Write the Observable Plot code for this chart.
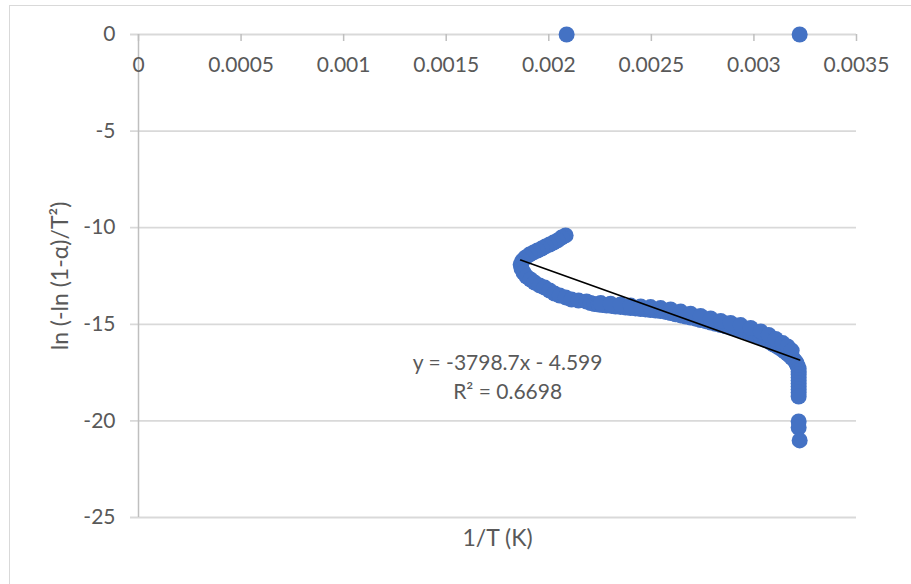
<!DOCTYPE html>
<html>
<head>
<meta charset="utf-8">
<script src="https://cdn.jsdelivr.net/npm/d3@7"></script>
<script src="https://cdn.jsdelivr.net/npm/@observablehq/plot@0.6"></script>
<style>
  html, body { margin: 0; padding: 0; background: #fff; }
  #chart { position: relative; width: 911px; height: 584px; overflow: hidden; }
  #chart .edge { position: absolute; left: 9px; top: 5px; width: 1200px; height: 1200px;
    border-left: 1.5px solid #d9d9d9; border-top: 1.5px solid #d9d9d9; box-sizing: border-box; }
  #chart svg { position: absolute; left: 0; top: 0; }
</style>
</head>
<body>
<div id="chart"><div class="edge"></div></div>
<script>
// 1/T (K) readings
const invT = [
  // two points on the zero line
  0.002087, 0.003223,
  // high-temperature arm and turning point
  0.002082, 0.002062, 0.002043, 0.002023, 0.002004, 0.001984, 0.001965, 0.001945,
  0.001926, 0.001906, 0.001887, 0.001872, 0.001863, 0.001867, 0.001877, 0.001892,
  0.001911, 0.001931, 0.001955, 0.001980, 0.002004, 0.002028, 0.002053, 0.002082,
  0.002111, 0.002145, 0.002184,
  // main descending branch
  0.002204, 0.002223, 0.002243, 0.002262, 0.002282, 0.002306, 0.002326, 0.002350,
  0.002375, 0.002399, 0.002423, 0.002448, 0.002472, 0.002496, 0.002521, 0.002545,
  0.002570, 0.002594, 0.002618, 0.002643, 0.002667, 0.002691, 0.002716, 0.002740,
  0.002765, 0.002789, 0.002813, 0.002838, 0.002862, 0.002886, 0.002911, 0.002935,
  0.002960, 0.002984, 0.003008, 0.003033, 0.003057, 0.003077, 0.003096, 0.003116,
  0.003135, 0.003150, 0.003164, 0.003174, 0.003184, 0.003194, 0.003203, 0.003208,
  0.003213, 0.003218,
  // low-temperature tail
  0.003218, 0.003218, 0.003218, 0.003218, 0.003218, 0.003218, 0.003218, 0.003218,
  0.003218, 0.003218, 0.003218, 0.003223,
  // second run along the descending branch
  0.002253, 0.002301, 0.002350, 0.002399, 0.002448, 0.002496, 0.002545, 0.002594,
  0.002643, 0.002691, 0.002740, 0.002789, 0.002838, 0.002886, 0.002935, 0.002984,
  0.003033, 0.003072, 0.003106, 0.003140, 0.003164, 0.003184
];

// ln(-ln(1-α)/T²) readings, same order
const lnTerm = [
  0, 0,
  -10.40, -10.51, -10.66, -10.77, -10.87, -10.97, -11.08, -11.18,
  -11.28, -11.39, -11.54, -11.70, -11.90, -12.11, -12.32, -12.53,
  -12.68, -12.84, -12.99, -13.10, -13.25, -13.41, -13.51, -13.61,
  -13.72, -13.77, -13.82,
  -13.90, -13.95, -13.98, -14.00, -14.03, -14.05, -14.08, -14.10,
  -14.13, -14.16, -14.18, -14.21, -14.23, -14.26, -14.29, -14.31,
  -14.36, -14.42, -14.48, -14.54, -14.60, -14.65, -14.71, -14.78,
  -14.84, -14.91, -14.97, -15.04, -15.10, -15.17, -15.23, -15.30,
  -15.38, -15.48, -15.58, -15.68, -15.81, -15.92, -16.05, -16.17,
  -16.30, -16.41, -16.53, -16.61, -16.72, -16.82, -16.93, -17.03,
  -17.16, -17.29,
  -17.44, -17.60, -17.75, -17.91, -18.06, -18.22, -18.37, -18.53,
  -18.74, -20.03, -20.34, -21.01,
  -13.90, -13.93, -13.98, -14.03, -14.08, -14.11, -14.16, -14.23,
  -14.34, -14.45, -14.57, -14.70, -14.83, -14.93, -15.04, -15.19,
  -15.37, -15.55, -15.76, -15.97, -16.15, -16.36
];

// Linear trendline as reported
const slope = -3798.7;
const intercept = -4.599;
const rSquared = 0.6698;

const xTicks = [0, 0.0005, 0.001, 0.0015, 0.002, 0.0025, 0.003, 0.0035];
const xTickLabels = ["0", "0.0005", "0.001", "0.0015", "0.002", "0.0025", "0.003", "0.0035"];
const yTicks = [0, -5, -10, -15, -20, -25];
const yTickLabels = ["0", "-5", "-10", "-15", "-20", "-25"];

const xTitle = "1/T (K)";
const yTitle = "ln (-ln (1-\u03B1)/T\u00B2)";

const points = invT.map((x, i) => ({x, y: lnTerm[i]}));
const [xMin, xMax] = d3.extent(invT);
const trend = [xMin, xMax].map(x => ({x, y: slope * x + intercept}));
const fmt = v => (v < 0 ? "- " + Math.abs(v) : "+ " + v);
const eqText = `y = ${slope}x ${fmt(intercept)}\nR\u00B2 = ${rSquared}`;

const textColor = "#595959";

const chart = Plot.plot({
  width: 911,
  height: 584,
  marginLeft: 138,
  marginRight: 55,
  marginTop: 34,
  marginBottom: 67,
  style: {fontFamily: "Lato, 'Open Sans', sans-serif", fontSize: "21px", color: textColor, background: "transparent"},
  x: {domain: [0, 0.0035], axis: null},
  y: {domain: [-25, 0], axis: null},
  marks: [
    // horizontal gridlines, extended left past the value axis as tick marks
    Plot.ruleY(yTicks, {stroke: "#d9d9d9", strokeWidth: 1.8, insetLeft: -8}),
    // value axis line
    Plot.ruleX([0], {stroke: "#bfbfbf", strokeWidth: 1.5}),
    // category axis ticks hanging below the zero line
    Plot.ruleX(xTicks, {x: d => d, y1: () => 0, y2: () => 0, insetBottom: -7, stroke: "#bfbfbf", strokeWidth: 1.5}),
    // tick labels
    Plot.text(xTicks, {x: d => d, y: () => 0, dy: 31, text: (d, i) => xTickLabels[i], fill: textColor, lineAnchor: "middle", fontSize: 21}),
    Plot.text(yTicks, {x: () => 0, y: d => d, dx: -23, text: (d, i) => yTickLabels[i], fill: textColor, textAnchor: "end", lineAnchor: "middle", fontSize: 21}),
    // data
    Plot.dot(points, {x: "x", y: "y", r: 8, fill: "#4472C4"}),
    // fitted line
    Plot.line(trend, {x: "x", y: "y", stroke: "#000", strokeWidth: 1.6}),
    // trendline equation
    Plot.text([eqText], {x: () => 0.0017995, y: () => -17.62, text: d => d, fill: textColor, fontSize: 21, lineHeight: 1.38, lineAnchor: "middle"}),
    // axis titles
    Plot.text([xTitle], {frameAnchor: "bottom", dy: 21, text: d => d, fill: textColor, fontSize: 23, textAnchor: "middle", lineAnchor: "middle"}),
    Plot.text([yTitle], {frameAnchor: "left", dx: -78, rotate: -90, text: d => d, fill: textColor, fontSize: 23, textAnchor: "middle", lineAnchor: "middle"})
  ]
});

document.getElementById("chart").appendChild(chart);
</script>
</body>
</html>
